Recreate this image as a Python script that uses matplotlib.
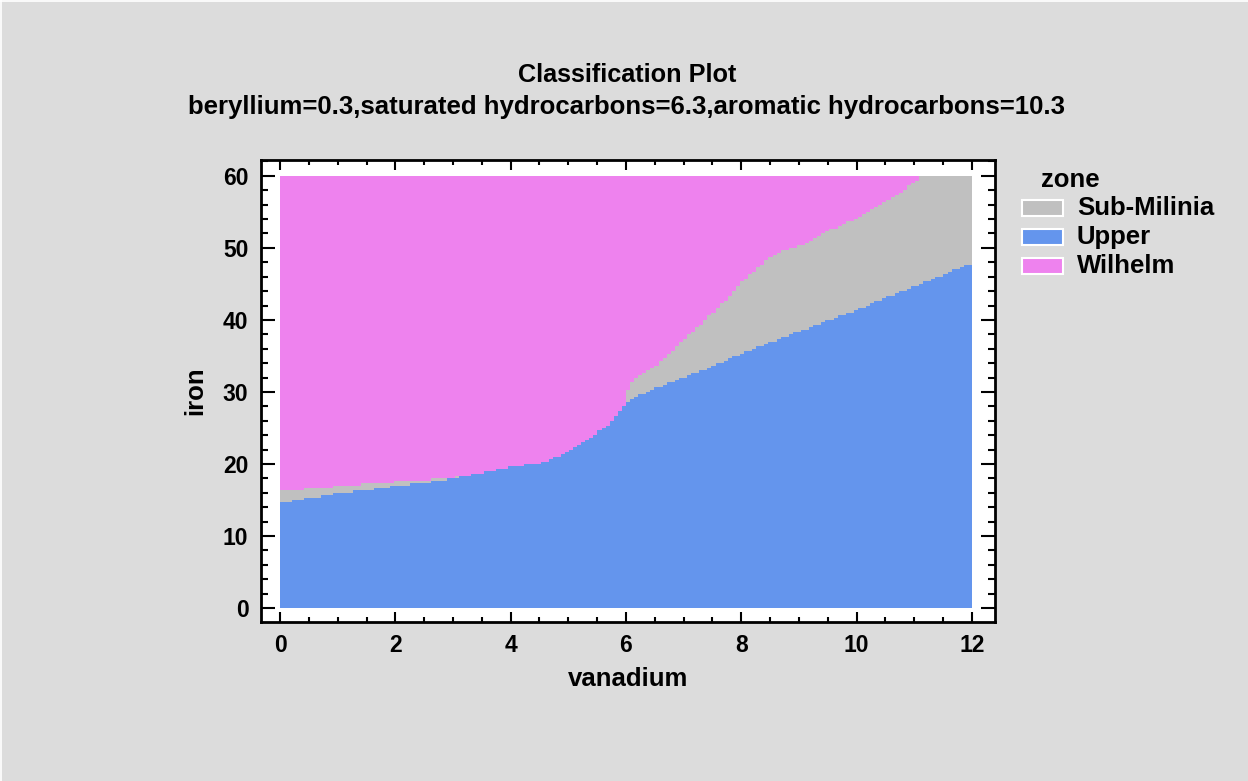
import numpy as np
import matplotlib
matplotlib.use("Agg")
import matplotlib.pyplot as plt
from matplotlib.patches import Rectangle
from matplotlib.lines import Line2D
from matplotlib.colors import ListedColormap
from matplotlib.ticker import MultipleLocator

plt.rcParams['font.family'] = ['Liberation Sans', 'DejaVu Sans']
plt.rcParams['font.weight'] = 'bold'

zones = ["Sub-Milinia", "Upper", "Wilhelm"]
zone_colors = ["#C0C0C0", "#6495ED", "#EE82EE"]

# top of "Upper" zone (iron) as a function of vanadium
upper_top_x = [0.0, 1.0, 2.0, 2.9, 3.5, 4.0, 4.5, 5.0, 5.5, 5.7, 6.0, 6.07, 6.5, 7.0, 7.28, 8.0, 9.0, 10.0, 10.75, 11.0, 12.0]
upper_top_y = [14.6, 15.9, 16.9, 17.8, 18.8, 19.6, 20.1, 21.6, 24.3, 25.4, 28.4, 28.9, 30.5, 32.1, 32.8, 35.3, 38.4, 41.4, 43.9, 44.6, 47.9]

# top of "Sub-Milinia" zone (iron) as a function of vanadium (equal to the above where absent)
sub_top_x = [0.0, 1.0, 2.0, 2.9, 2.95, 3.5, 4.0, 4.5, 5.0, 5.5, 5.7, 6.0, 6.05, 6.2, 6.5, 7.0, 7.5, 8.0, 8.5, 8.75, 9.0, 9.5, 10.0, 10.5, 11.0, 11.14, 12.0]
sub_top_y = [16.2, 16.9, 17.5, 18.0, 18.0, 18.8, 19.6, 20.1, 21.6, 24.3, 25.4, 28.4, 31.0, 32.1, 33.5, 37.2, 40.9, 45.1, 48.8, 49.7, 50.2, 52.3, 54.1, 56.4, 59.0, 60.0, 60.0]

xticks = [0, 2, 4, 6, 8, 10, 12]
yticks = [0, 10, 20, 30, 40, 50, 60]

W, H = 1248, 781
fig = plt.figure(figsize=(W/100, H/100), dpi=100)
fig.patch.set_facecolor("#DCDCDC")
fig.add_artist(Line2D([0.5/W, 0.5/W], [0, 1], color='white', lw=1.2, transform=fig.transFigure))
fig.add_artist(Line2D([0, 1], [1-0.5/H, 1-0.5/H], color='white', lw=1.2, transform=fig.transFigure))

ax = fig.add_axes([261/W, 1-622/H, (995-261)/W, (622-160)/H])
ax.set_facecolor("white")

nx, ny = 170, 180
xe = np.linspace(0, 12, nx + 1)
ye = np.linspace(0, 60, ny + 1)
xc = (xe[:-1] + xe[1:]) / 2
yc = (ye[:-1] + ye[1:]) / 2
b1 = np.interp(xc, upper_top_x, upper_top_y)
b2 = np.interp(xc, sub_top_x, sub_top_y)
b2 = np.maximum(b1, b2)
Y = yc[:, None]
cls = np.where(Y <= b1[None, :], 1, np.where(Y <= b2[None, :], 0, 2))
ax.pcolormesh(xe, ye, cls, cmap=ListedColormap(zone_colors), vmin=-0.5, vmax=2.5, shading='flat')

ax.set_xlim(-0.33, 12.4)
ax.set_ylim(-1.94, 62.2)
ax.set_xticks(xticks)
ax.set_yticks(yticks)
ax.xaxis.set_minor_locator(MultipleLocator(0.5))
ax.yaxis.set_minor_locator(MultipleLocator(2))
ax.tick_params(which='both', direction='in', top=True, right=True, width=1.5, labelsize=16.5)
ax.tick_params(axis='x', which='major', length=7, pad=9)
ax.tick_params(axis='x', which='minor', length=3.5)
ax.tick_params(axis='y', which='major', length=10, pad=9)
ax.tick_params(axis='y', which='minor', length=5)
for lab in ax.get_xticklabels() + ax.get_yticklabels():
    lab.set_fontweight('bold')
for s in ax.spines.values():
    s.set_linewidth(2)

ax.set_xlabel("vanadium", fontsize=18.5, fontweight='bold', labelpad=7)
ax.set_ylabel("iron", fontsize=18.5, fontweight='bold', labelpad=11)

fig.text(627/W, 1-75/H, "Classification Plot", ha='center', va='center', fontsize=18.2, fontweight='bold')
fig.text(626/W, 1-107/H, "beryllium=0.3,saturated hydrocarbons=6.3,aromatic hydrocarbons=10.3",
         ha='center', va='center', fontsize=18.5, fontweight='bold')

# legend (placed by hand)
fig.text(1070/W, 1-180/H, "zone", ha='center', va='center', fontsize=18.5, fontweight='bold')
for i, (z, c) in enumerate(zip(zones, zone_colors)):
    yc_px = 208 + 29 * i
    fig.add_artist(Rectangle((1022/W, 1-(yc_px+8)/H), 41/W, 16/H, facecolor=c, edgecolor='white',
                             linewidth=1.5, transform=fig.transFigure))
    fig.text(1077/W, 1-yc_px/H, z, ha='left', va='center', fontsize=18.5, fontweight='bold')

fig.savefig("out.png", dpi=100, facecolor=fig.get_facecolor())
